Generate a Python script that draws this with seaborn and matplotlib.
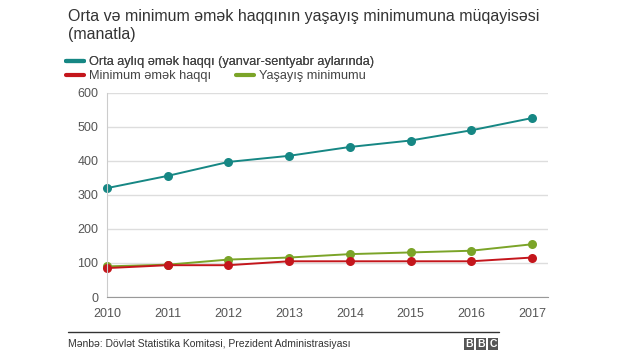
import pandas as pd
import numpy as np
import matplotlib.pyplot as plt
import seaborn as sns
from matplotlib.lines import Line2D
from matplotlib.patches import Rectangle

years = [2010, 2011, 2012, 2013, 2014, 2015, 2016, 2017]
orta = [320, 356, 397, 415, 441, 460, 490, 526]
minimum = [85, 93.5, 93.5, 105, 105, 105, 105, 116]
yasayis = [90, 95, 110, 116, 126, 131, 136, 155]

names = ['Orta aylıq əmək haqqı (yanvar-sentyabr aylarında)',
         'Minimum əmək haqqı', 'Yaşayış minimumu']
colors = ['#168784', '#c4161c', '#7ba428']

df = pd.concat([
    pd.DataFrame({'il': years, 'manat': orta, 'seriya': names[0]}),
    pd.DataFrame({'il': years, 'manat': yasayis, 'seriya': names[2]}),
    pd.DataFrame({'il': years, 'manat': minimum, 'seriya': names[1]}),
])

sns.set_style('white')
plt.rcParams['font.family'] = ['Liberation Sans', 'DejaVu Sans']

fig = plt.figure(figsize=(6.4, 3.6), dpi=100)
ax = fig.add_axes([0.167, 0.175, 0.689, 0.567])

pal = {names[0]: colors[0], names[1]: colors[1], names[2]: colors[2]}
sns.lineplot(data=df, x='il', y='manat', hue='seriya', palette=pal,
             marker='o', markersize=6.5, markeredgewidth=0, linewidth=1.4,
             legend=False, ax=ax)

ax.set_xlim(2010, 2017.26)
ax.set_ylim(0, 600)
ax.set_yticks(range(0, 601, 100))
ax.set_xticks(years)
ax.set_xlabel('')
ax.set_ylabel('')
ax.yaxis.grid(True, color='#dddddd', lw=1)
for s in ['top', 'right']:
    ax.spines[s].set_visible(False)
ax.spines['left'].set_color('#cccccc')
ax.spines['bottom'].set_color('#999999')
ax.tick_params(axis='y', length=4, color='#cccccc', labelsize=9, labelcolor='#555555', pad=2)
ax.tick_params(axis='x', length=0, labelsize=9, labelcolor='#555555', pad=8)
for m in ax.lines:
    m.set_clip_on(False)

fig.text(68/640, 1 - 17/360, 'Orta və minimum əmək haqqının yaşayış minimumuna müqayisəsi',
         fontsize=11.5, color='#333333', va='center')
fig.text(68/640, 1 - 34/360, '(manatla)', fontsize=11.5, color='#333333', va='center')

h = [Line2D([], [], color=c, lw=3) for c in colors]
leg1 = fig.legend([h[0]], [names[0]], loc='center left', bbox_to_anchor=(60/640, 1 - 62/360),
                  frameon=False, fontsize=9.2, handlelength=1.4, handletextpad=0.4,
                  borderpad=0, labelcolor='#444444')
leg2 = fig.legend([h[1], h[2]], [names[1], names[2]], loc='center left',
                  bbox_to_anchor=(60/640, 1 - 76/360), ncol=2, columnspacing=1.9,
                  frameon=False, fontsize=9.2, handlelength=1.4, handletextpad=0.4,
                  borderpad=0, labelcolor='#444444')
fig.add_artist(leg1)

fig.add_artist(Line2D([68/640, 499/640], [1 - 332/360, 1 - 332/360], color='#333333', lw=1))
fig.text(68/640, 1 - 344/360, 'Mənbə: Dövlət Statistika Komitəsi, Prezident Administrasiyası',
         fontsize=7.5, color='#333333', va='center')
for i, ch in enumerate('BBC'):
    x0 = (464 + i * 12) / 640
    fig.add_artist(Rectangle((x0, 1 - 350/360), 10/640, 12/360, color='#555555',
                             lw=0, transform=fig.transFigure))
    fig.text(x0 + 5/640, 1 - 344/360, ch, fontsize=7.5, color='white', weight='bold',
             ha='center', va='center')

fig.savefig('out.png', dpi=100)
